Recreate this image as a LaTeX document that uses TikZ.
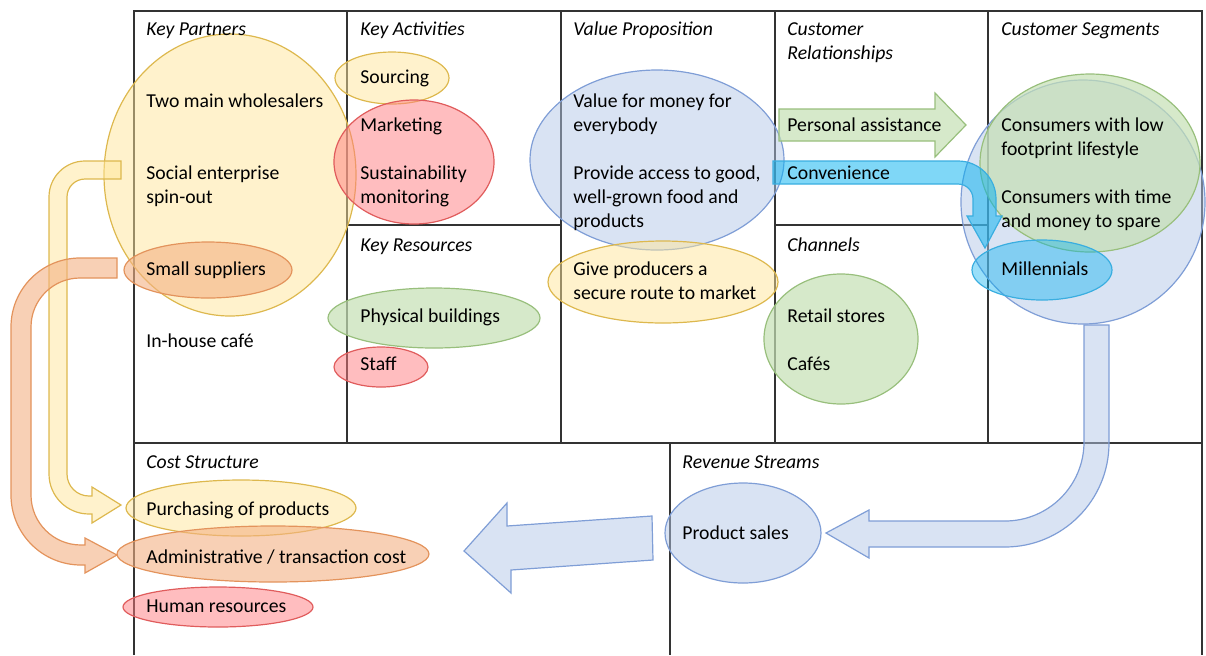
\documentclass[tikz,border=0pt]{standalone}
\usepackage{fontspec}
\setmainfont{Carlito}
\usetikzlibrary{positioning}

\definecolor{gridgray}{HTML}{333333}
\definecolor{yelF}{HTML}{FFE699}
\definecolor{yelD}{HTML}{DDB84E}
\definecolor{redF}{HTML}{FF7C80}
\definecolor{redD}{HTML}{E05C5C}
\definecolor{orgF}{HTML}{F4B183}
\definecolor{orgD}{HTML}{E3935C}
\definecolor{grnF}{HTML}{C5E0B4}
\definecolor{grnD}{HTML}{98BF7C}
\definecolor{bluF}{HTML}{B4C7E7}
\definecolor{bluD}{HTML}{7F9ED6}
\definecolor{cyaF}{HTML}{00B0F0}
\definecolor{cyaD}{HTML}{3AAEE0}

\begin{document}
\begin{tikzpicture}[x=0.5pt,y=-0.5pt,
  grid/.style={draw=gridgray,line width=0.8pt},
  txt/.style={anchor=base west,inner sep=0pt,align=left,font=\fontsize{9.85}{12}\selectfont},
  head/.style={txt,font=\fontsize{9.85}{12}\selectfont\itshape},
  yblob/.style={draw=yelD,line width=0.6pt,fill=yelF,fill opacity=0.5},
  rblob/.style={draw=redD,line width=0.6pt,fill=redF,fill opacity=0.5},
  oblob/.style={draw=orgD,line width=0.6pt,fill=orgF,fill opacity=0.6},
  gblob/.style={draw=grnD,line width=0.6pt,fill=grnF,fill opacity=0.7},
  bblob/.style={draw=bluD,line width=0.6pt,fill=bluF,fill opacity=0.5},
  cblob/.style={draw=cyaD,line width=0.6pt,fill=cyaF,fill opacity=0.5}]

  \useasboundingbox (0,0) rectangle (1206,655);

  \draw[grid] (134,655) -- (134,11) -- (1202,11) -- (1202,655);
  \draw[grid] (134,443) -- (1202,443);
  \foreach \xx in {347,561,775,988}
    \draw[grid] (\xx,11) -- (\xx,443);
  \draw[grid] (347,225) -- (561,225);
  \draw[grid] (775,225) -- (988,225);
  \draw[grid] (670,443) -- (670,655);

  \draw[yblob] (230,175) ellipse [x radius=126, y radius=141];
  \draw[oblob] (208,270) ellipse [x radius=84, y radius=28];
  \draw[yblob] (392,78) ellipse [x radius=57, y radius=26];
  \draw[rblob] (414,162) ellipse [x radius=80, y radius=62];
  \draw[gblob] (434,318) ellipse [x radius=106, y radius=30];
  \draw[rblob] (381,367) ellipse [x radius=47, y radius=20];
  \draw[bblob] (657,160) ellipse [x radius=127, y radius=90];
  \draw[yblob] (663,282) ellipse [x radius=115, y radius=41];
  \draw[gblob] (841,339) ellipse [x radius=77, y radius=65];
  \draw[bblob] (1083,202) ellipse [x radius=122, y radius=122];
  \draw[gblob] (1090,163) ellipse [x radius=110, y radius=89];
  \draw[cblob,fill opacity=0.4] (1042,270) ellipse [x radius=70, y radius=30];
  \draw[bblob] (743,533) ellipse [x radius=78, y radius=50];
  \draw[yblob] (241,508) ellipse [x radius=115, y radius=28];
  \draw[oblob] (273,554) ellipse [x radius=156, y radius=28];
  \draw[rblob] (218,607) ellipse [x radius=95, y radius=20];

  \draw[gblob] (779,109) -- (935,109) -- (935,93) -- (966,125) -- (935,157) -- (935,141) -- (779,141) -- cycle;
  \draw[cblob] (773,161) -- (958,161) arc[start angle=270,end angle=360,radius=38] -- (996,216) -- (1002,216) -- (985,248) -- (967,216) -- (973,216) -- (973,199) arc[start angle=0,end angle=-90,radius=15] -- (773,184) -- cycle;
  \draw[yblob] (121,161) -- (85,161) arc[start angle=270,end angle=180,radius=36] -- (49,474) arc[start angle=180,end angle=90,radius=40] -- (92,514) -- (92,523) -- (121,505) -- (92,487) -- (92,496) -- (89,496) arc[start angle=90,end angle=180,radius=22] -- (67,197) arc[start angle=180,end angle=270,radius=18] -- (121,179) -- cycle;
  \draw[oblob] (117,258) -- (80,258) arc[start angle=270,end angle=180,radius=69] -- (11,495) arc[start angle=180,end angle=90,radius=70] -- (85,565) -- (85,573) -- (117,555) -- (85,538) -- (85,545) -- (81,545) arc[start angle=90,end angle=180,radius=50] -- (31,327) arc[start angle=180,end angle=270,radius=49] -- (117,278) -- cycle;
  \draw[bblob] (1109,325) -- (1109,443) arc[start angle=0,end angle=90,radius=104] -- (869,547) -- (869,558) -- (826,533) -- (869,510) -- (869,521) -- (1005,521) arc[start angle=90,end angle=0,radius=79] -- (1084,325) -- cycle;
  \draw[bblob] (652,516) -- (507,526) -- (507,503) -- (464,551) -- (511,593) -- (511,570) -- (653,560) -- cycle;

  \node[head] (kp) at (146,35) {Key Partners};
  \node[txt] (kp1) at (146,107) {Two main wholesalers};
  \node[txt] (kp2) at (146,203) {Social enterprise\\spin-out};
  \node[txt] (kp3) at (146,275) {Small suppliers};
  \node[txt] (kp4) at (146,347) {In-house café};

  \node[head] (ka) at (360,35) {Key Activities};
  \node[txt] (ka1) at (360,83) {Sourcing};
  \node[txt] (ka2) at (360,131) {Marketing};
  \node[txt] (ka3) at (360,203) {Sustainability\\monitoring};

  \node[head] (kr) at (360,251) {Key Resources};
  \node[txt] (kr1) at (360,322) {Physical buildings};
  \node[txt] (kr2) at (360,370) {Staff};

  \node[head] (vp) at (573,35) {Value Proposition};
  \node[txt] (vp1) at (573,131) {Value for money for\\everybody};
  \node[txt] (vp2) at (573,227) {Provide access to good,\\well-grown food and\\products};
  \node[txt] (vp3) at (573,299) {Give producers a\\secure route to market};

  \node[head] (cr) at (787,59) {Customer\\Relationships};
  \node[txt] (cr1) at (787,131) {Personal assistance};
  \node[txt] (cr2) at (787,179) {Convenience};

  \node[head] (ch) at (787,251) {Channels};
  \node[txt] (ch1) at (787,322) {Retail stores};
  \node[txt] (ch2) at (787,370) {Cafés};

  \node[head] (cs) at (1001,35) {Customer Segments};
  \node[txt] (cs1) at (1001,155) {Consumers with low\\footprint lifestyle};
  \node[txt] (cs2) at (1001,227) {Consumers with time\\and money to spare};
  \node[txt] (cs3) at (1001,275) {Millennials};

  \node[head] (cst) at (146,468) {Cost Structure};
  \node[txt] (cst1) at (146,515) {Purchasing of products};
  \node[txt] (cst2) at (146,563) {Administrative / transaction cost};
  \node[txt] (cst3) at (146,612) {Human resources};

  \node[head] (rs) at (682,468) {Revenue Streams};
  \node[txt] (rs1) at (682,539) {Product sales};
\end{tikzpicture}
\end{document}
